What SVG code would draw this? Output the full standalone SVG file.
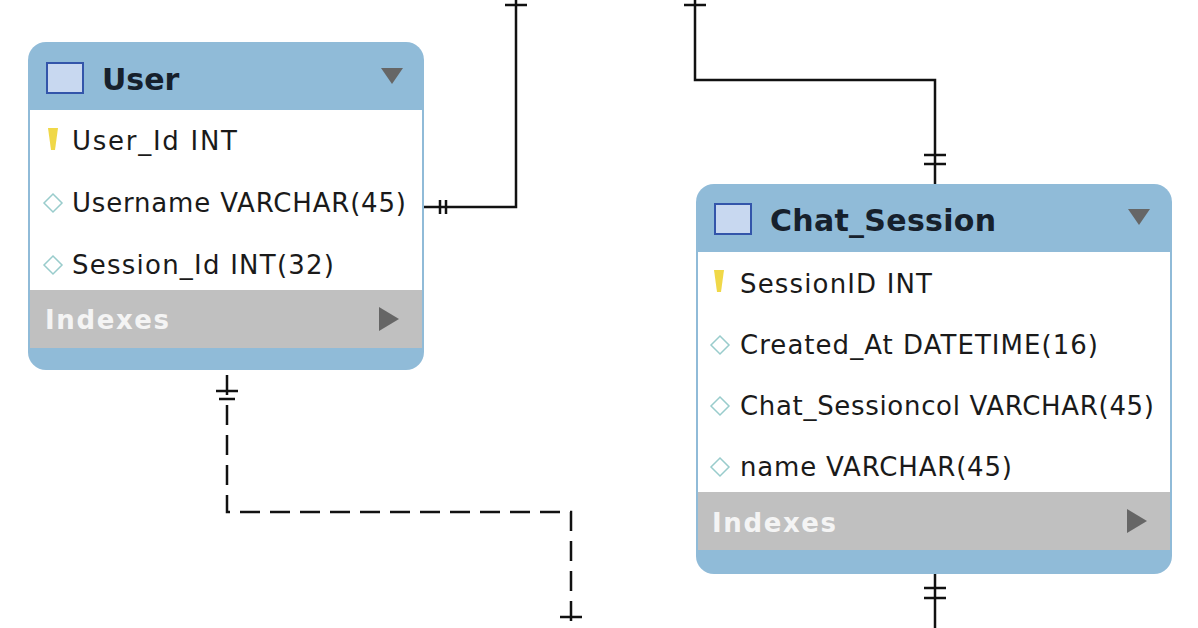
<svg xmlns="http://www.w3.org/2000/svg" width="1198" height="628" viewBox="0 0 1198 628">
<style>
.hdr{fill:#90bbd8}.body{fill:#fff}.idx{fill:#c0c0c0}
.t{font-family:"DejaVu Sans",sans-serif;font-size:26px;fill:#1a1a1a}
.h{font-family:"DejaVu Sans",sans-serif;font-size:30px;font-weight:bold;fill:#16202c}
.i{font-family:"DejaVu Sans",sans-serif;font-size:26px;font-weight:bold;fill:#f4f4f4}
.ln{stroke:#111;stroke-width:2.5;fill:none}
.dia{fill:#fff;stroke:#9cc;stroke-width:1.5}
.key{fill:#f0d848}
.tri{fill:#666}
</style>
<rect width="1198" height="628" fill="#fff"/>
<g id="connectors">
<path class="ln" d="M424 207H516V0"/><path class="ln" d="M440 200v14M446 200v14M505 5h22"/>
<path class="ln" d="M695 0V80H935V184"/><path class="ln" d="M684 5h22M924 155h22M924 164h22"/>
<path class="ln" d="M227 375V512H571V628" stroke-dasharray="20 10"/><path class="ln" d="M216 391h22M219 399h16M560 617h22"/>
<path class="ln" d="M935 574V628"/><path class="ln" d="M924 588h22M924 598h22"/>
</g>
<g id="user">
<rect x="28" y="42" width="396" height="328" rx="18" class="hdr"/>
<rect x="30" y="110" width="392" height="180" class="body"/>
<rect x="30" y="290" width="392" height="58" class="idx"/>
<rect x="47" y="63" width="36" height="30" fill="#c8d8f0" stroke="#3355aa" stroke-width="2"/>
<text x="102" y="90" class="h">User</text>
<path class="tri" d="M381 68h22l-11 16z"/>
<path class="key" d="M48 128h10l-3 22h-4z"/>
<text x="72" y="150" class="t" textLength="165">User_Id INT</text>
<path class="dia" d="M53 194l9 9-9 9-9-9z"/><text x="72" y="212" class="t" textLength="334">Username VARCHAR(45)</text>
<path class="dia" d="M53 256l9 9-9 9-9-9z"/><text x="72" y="274" class="t" textLength="262">Session_Id INT(32)</text>
<text x="45" y="329" class="i" textLength="124">Indexes</text>
<path class="tri" d="M379 307v24l20-12z"/>
</g>
<g id="chat_session">
<rect x="696" y="184" width="476" height="390" rx="18" class="hdr"/>
<rect x="698" y="252" width="472" height="240" class="body"/>
<rect x="698" y="492" width="472" height="58" class="idx"/>
<rect x="715" y="204" width="36" height="30" fill="#c8d8f0" stroke="#3355aa" stroke-width="2"/>
<text x="770" y="231" class="h" textLength="226">Chat_Session</text>
<path class="tri" d="M1128 209h22l-11 16z"/>
<path class="key" d="M714 270h10l-3 22h-4z"/>
<text x="740" y="293" class="t" textLength="192">SessionID INT</text>
<path class="dia" d="M720 336l9 9-9 9-9-9z"/><text x="740" y="354" class="t" textLength="358">Created_At DATETIME(16)</text>
<path class="dia" d="M720 397l9 9-9 9-9-9z"/><text x="740" y="415" class="t" textLength="414">Chat_Sessioncol VARCHAR(45)</text>
<path class="dia" d="M720 458l9 9-9 9-9-9z"/><text x="740" y="476" class="t" textLength="272">name VARCHAR(45)</text>
<text x="712" y="532" class="i" textLength="124">Indexes</text>
<path class="tri" d="M1127 509v24l20-12z"/>
</g>
</svg>
